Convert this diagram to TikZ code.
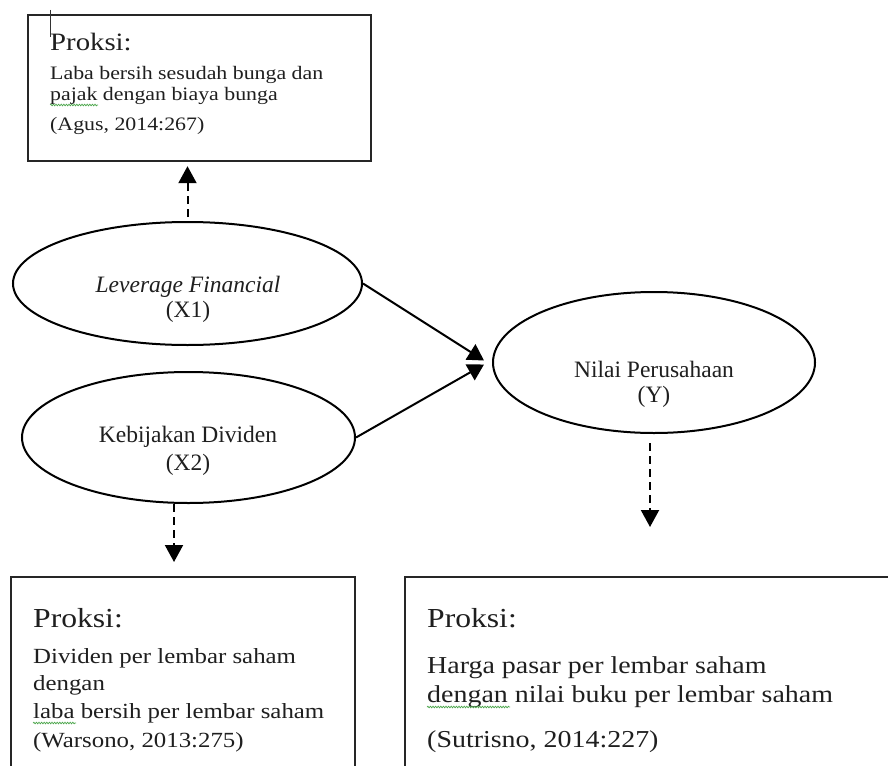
\documentclass[tikz,border=0pt]{standalone}
\usepackage{fontspec}
\setmainfont{Liberation Serif}
\newfontfamily\boxfont[FakeStretch=1.15]{Liberation Serif}
\usetikzlibrary{shapes.geometric,arrows.meta,decorations.pathmorphing}
\begin{document}
\begin{tikzpicture}[x=1pt,y=-1pt,
  frame/.style={draw=black!85, line width=2.2pt, inner sep=0pt, anchor=north west},
  oval/.style={ellipse, draw=black, line width=2pt, inner sep=0pt},
  etext/.style={anchor=base, inner sep=0pt, text=black!88, font=\fontsize{23.5pt}{28pt}\selectfont},
  txt/.style={anchor=base west, inner sep=0pt, text=black!88},
  titleA/.style={txt, font=\boxfont\fontsize{25pt}{30pt}\selectfont},
  bodyA/.style={txt, font=\boxfont\fontsize{19pt}{23pt}\selectfont},
  titleB/.style={txt, font=\boxfont\fontsize{27.5pt}{33pt}\selectfont},
  bodyL/.style={txt, font=\boxfont\fontsize{21.6pt}{26pt}\selectfont},
  bodyR/.style={txt, font=\boxfont\fontsize{24.3pt}{29pt}\selectfont},
  solidarrow/.style={draw=black, line width=2pt, -{Triangle[length=16pt,width=18pt]}},
  dasharrow/.style={draw=black, line width=2pt, dash pattern=on 8pt off 5pt, -{Triangle[length=17pt,width=18pt]}},
  wavy/.style={draw=green!50!black!70, line width=0.7pt, decorate, decoration={snake, amplitude=0.8pt, segment length=2.6pt}}
]
\useasboundingbox (0,0) rectangle (888,765);
\clip (0,0) rectangle (888,765);
\fill[white] (0,0) rectangle (888,765);

% top box
\node[frame, minimum width=343pt, minimum height=146pt] (tb) at (27,14) {};
\draw[black!80, line width=1pt] (50,10) -- (50,37);
\node[titleA] (tbt) at (50,50.5) {Proksi:};
\node[bodyA] (tb1) at (50,80) {Laba bersih sesudah bunga dan};
\node[bodyA] (tb2) at (50,101) {pajak dengan biaya bunga};
\node[bodyA] (tb3) at (50,131) {(Agus, 2014:267)};
\draw[wavy] ([yshift=-4pt]tb2.base west) -- ++(48,0);

% ellipses
\node[oval, minimum width=349pt, minimum height=123pt] (x1) at (187.5,283.5) {};
\node[etext] (x1a) at (188,292) {\textit{Leverage Financial}};
\node[etext] (x1b) at (188,317) {(X1)};

\node[oval, minimum width=333pt, minimum height=131pt] (x2) at (188.5,437.5) {};
\node[etext] (x2a) at (188,442) {Kebijakan Dividen};
\node[etext] (x2b) at (188,470) {(X2)};

\node[oval, minimum width=322pt, minimum height=141pt] (y) at (654,362.5) {};
\node[etext] (ya) at (654,377) {Nilai Perusahaan};
\node[etext] (yb) at (654,402) {(Y)};

% bottom boxes
\node[frame, minimum width=344pt, minimum height=260pt] (bl) at (10,576) {};
\node[titleB] (blt) at (33,627) {Proksi:};
\node[bodyL] (bl1) at (33,663) {Dividen per lembar saham};
\node[bodyL] (bl2) at (33,690) {dengan};
\node[bodyL] (bl3) at (33,718) {laba bersih per lembar saham};
\node[bodyL] (bl4) at (33,747) {(Warsono, 2013:275)};
\draw[wavy] ([yshift=-5pt]bl3.base west) -- ++(43,0);

\node[frame, minimum width=520pt, minimum height=260pt] (br) at (404,576) {};
\node[titleB] (brt) at (427,627) {Proksi:};
\node[bodyR] (br1) at (427,673) {Harga pasar per lembar saham};
\node[bodyR] (br2) at (427,702) {dengan nilai buku per lembar saham};
\node[bodyR] (br3) at (427,747) {(Sutrisno, 2014:227)};
\draw[wavy] ([yshift=-5pt]br2.base west) -- ++(83,0);

% solid arrows
\draw[solidarrow] (x1.east) -- ([xshift=-8pt,yshift=2pt]y.west);
\draw[solidarrow] (x2.east) -- ([xshift=-8pt,yshift=-2pt]y.west);

% dashed arrows
\draw[dasharrow] ([yshift=4pt]x1.north) -- ([yshift=-4pt]x1.north |- tb.south);
\coordinate (a2) at (174,504);
\draw[dasharrow] (a2) -- ([yshift=14pt]a2 |- bl.north);
\coordinate (a3) at (650,443);
\coordinate (e3) at (650,527);
\draw[dasharrow] (a3) -- (e3);
\end{tikzpicture}
\end{document}
